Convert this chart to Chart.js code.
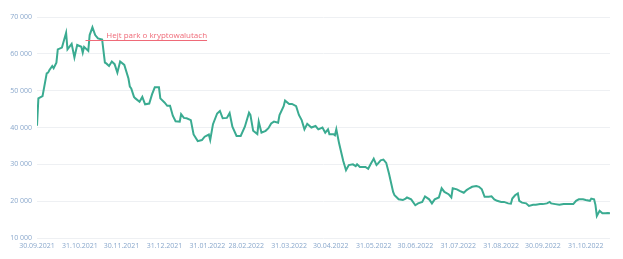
<!DOCTYPE html>
<html>
<head>
<meta charset="utf-8">
<script src="https://cdn.jsdelivr.net/npm/chart.js@4"></script>
<style>
html,body{margin:0;padding:0;background:#fff;}
#wrap{width:623px;height:259px;position:relative;}
</style>
</head>
<body>
<div id="wrap"><canvas id="c" width="623" height="259"></canvas></div>
<script>
// days since 30.09.2021
const days = [0,1,4,7,8,9,11,12,14,15,18,21,22,25,27,29,32,33,34,37,38,40,42,44,47,49,50,52,54,56,58,60,63,66,67,68,70,71,74,76,78,81,83,85,88,89,92,94,96,98,100,103,104,106,108,111,113,116,119,121,124,125,127,130,132,134,137,139,141,144,147,150,153,154,156,159,160,162,165,167,169,171,174,175,178,179,182,184,187,189,191,193,195,198,201,203,206,208,210,211,214,215,216,218,221,223,225,228,230,231,233,237,239,241,243,245,246,248,250,252,254,257,258,261,264,266,267,270,273,275,278,280,283,285,287,290,292,294,297,299,300,303,305,308,310,312,314,317,319,321,323,326,328,330,332,335,337,340,342,343,345,347,348,350,353,355,358,360,363,365,368,370,371,374,377,380,382,385,387,389,391,394,396,399,400,402,403,404,406,408,410,412,413.5];
const prices = [40500,47900,48500,54700,54900,55600,56700,56100,57600,61200,61700,65700,61200,62700,59000,62400,61900,60300,61900,60800,65100,67200,65100,64200,63900,57600,57400,56700,57900,57200,54900,57900,57000,53300,51100,50600,48300,47900,47000,48300,46300,46500,49000,50900,50900,47900,46800,45900,45900,43200,41700,41600,43600,42600,42500,42000,38100,36300,36600,37500,38100,36600,40900,43800,44500,42500,42600,43900,40200,37700,37700,40200,44000,43400,39100,38200,41600,38600,39100,39800,41100,41600,41300,43400,45800,47300,46400,46400,45800,43400,42000,39500,41000,40000,40400,39500,40000,38600,39500,38200,38200,37900,39500,35700,30900,28400,29800,30000,29500,30000,29300,29300,28800,30200,31500,29800,30200,31100,31300,30400,27500,22500,21600,20500,20300,20700,21000,20500,18900,19400,19800,21300,20500,19400,20500,21000,23500,22500,21900,21000,23500,23200,22800,22300,23000,23500,23900,24100,23900,23200,21200,21200,21300,20500,20100,19800,19800,19400,19300,20700,21600,22100,20100,19600,19400,18700,19000,19000,19200,19200,19400,19800,19400,19200,19000,19200,19200,19200,19200,20100,20500,20500,20300,20100,20700,20500,19000,16000,17400,16700,16700,16800,16700];

const tickDays = [0,31,61,92,123,151,182,212,243,273,304,335,365,396];
const tickLabels = ['30.09.2021','31.10.2021','30.11.2021','31.12.2021','31.01.2022','28.02.2022','31.03.2022','30.04.2022','31.05.2022','30.06.2022','31.07.2022','31.08.2022','30.09.2022','31.10.2022'];

const yTicks = [10000,20000,30000,40000,50000,60000,70000];

const annoText = 'Hejt park o kryptowalutach';
const annoLineStart = 35;   // day
const annoTextStart = 50;   // day
const annoValue = 63700;

const points = days.map((d,i)=>({x:d,y:prices[i]}));

const annoPlugin = {
  id:'anno',
  afterDatasetsDraw(chart){
    const {ctx, scales:{x,y}} = chart;
    ctx.save();
    ctx.font = '8px "Open Sans", sans-serif';
    ctx.fillStyle = '#ef6a78';
    ctx.textBaseline = 'alphabetic';
    const tx = x.getPixelForValue(annoTextStart);
    const ly = y.getPixelForValue(annoValue);
    ctx.fillText(annoText, tx, ly - 2);
    const w = ctx.measureText(annoText).width;
    ctx.strokeStyle = '#ef6a78';
    ctx.lineWidth = 1;
    ctx.beginPath();
    ctx.moveTo(x.getPixelForValue(annoLineStart), Math.round(ly)+0.5);
    ctx.lineTo(tx + w, Math.round(ly)+0.5);
    ctx.stroke();
    ctx.restore();
  }
};

new Chart(document.getElementById('c'), {
  type:'line',
  data:{datasets:[{data:points, borderColor:'#3aab91', borderWidth:2, pointRadius:0, tension:0, fill:false}]},
  options:{
    responsive:false, animation:false,
    layout:{padding:{top:17,right:13,bottom:0,left:0}},
    plugins:{legend:{display:false}, tooltip:{enabled:false}},
    scales:{
      x:{type:'linear', min:0, max:413.5,
        grid:{display:false, drawTicks:false}, border:{display:false},
        afterBuildTicks(s){ s.ticks = tickDays.map(v=>({value:v})); },
        afterFit(s){ s.height = 21; },
        ticks:{autoSkip:false, maxRotation:0, padding:4, color:'#8aa8cc',
          font:{size:7, family:'"Open Sans", sans-serif'},
          callback(v){ const i = tickDays.indexOf(v); return i>=0 ? tickLabels[i] : ''; }}
      },
      y:{min:10000, max:70000,
        grid:{color:'#eef0f3', drawTicks:false}, border:{display:false},
        afterBuildTicks(s){ s.ticks = yTicks.map(v=>({value:v})); },
        afterFit(s){ s.width = 37; },
        ticks:{padding:5, color:'#8aa8cc', font:{size:7, family:'"Open Sans", sans-serif'},
          callback(v){ return String(v).replace(/\B(?=(\d{3})+(?!\d))/g,' '); }}
      }
    }
  },
  plugins:[annoPlugin]
});
</script>
</body>
</html>
